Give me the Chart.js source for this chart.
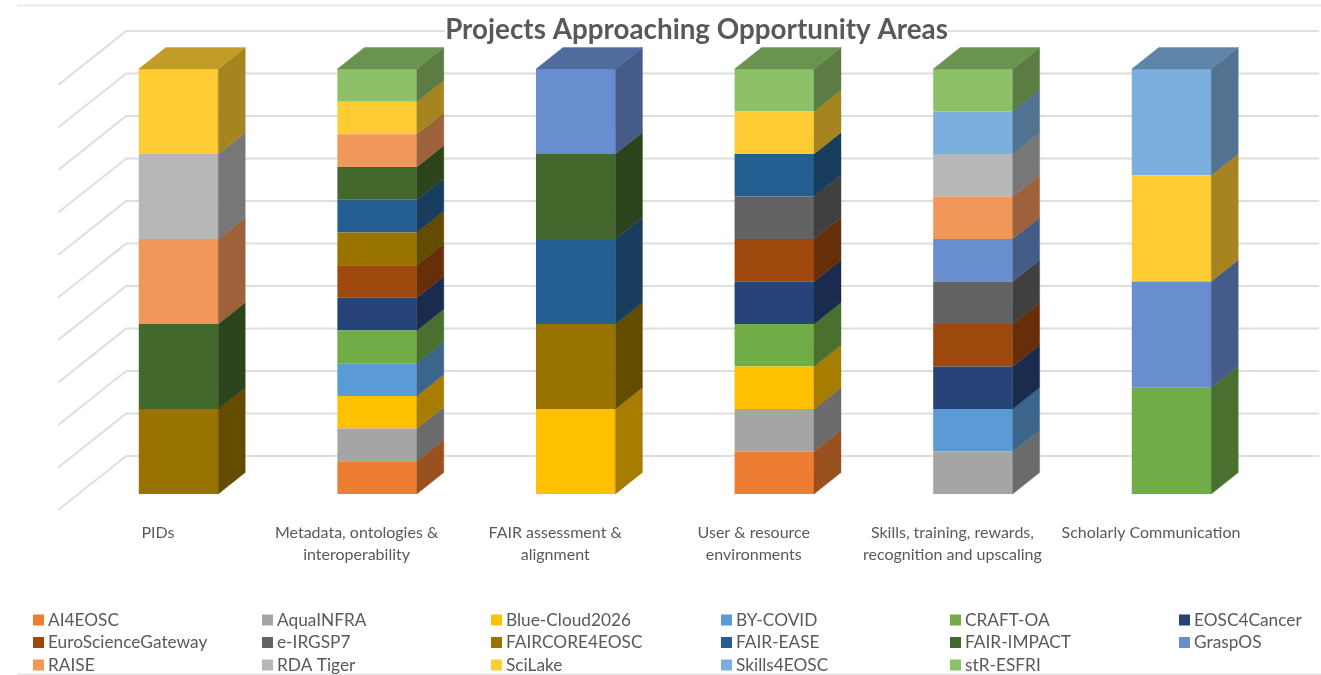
<!DOCTYPE html>
<html>
<head>
<meta charset="utf-8">
<style>html,body{margin:0;padding:0;background:#fff}canvas{display:block}</style>
<script src="https://cdn.jsdelivr.net/npm/chart.js@4"></script>
</head>
<body>
<canvas id="c" width="1321" height="675"></canvas>
<script>
const categories = [
  "PIDs",
  ["Metadata, ontologies &", "interoperability"],
  ["FAIR assessment &", "alignment"],
  ["User & resource", "environments"],
  ["Skills, training, rewards,", "recognition and upscaling"],
  "Scholarly Communication"
];
const AI4EOSC            = [0,1,0,1,0,0];
const AquaINFRA          = [0,1,0,1,1,0];
const BlueCloud2026      = [0,1,1,1,0,0];
const BYCOVID            = [0,1,0,0,1,0];
const CRAFTOA            = [0,1,0,1,0,1];
const EOSC4Cancer        = [0,1,0,1,1,0];
const EuroScienceGateway = [0,1,0,1,1,0];
const eIRGSP7            = [0,0,0,1,1,0];
const FAIRCORE4EOSC      = [1,1,1,0,0,0];
const FAIREASE           = [0,1,1,1,0,0];
const FAIRIMPACT         = [1,1,1,0,0,0];
const GraspOS            = [0,0,1,0,1,1];
const RAISE              = [1,1,0,0,1,0];
const RDATiger           = [1,0,0,0,1,0];
const SciLake            = [1,1,0,1,0,1];
const Skills4EOSC        = [0,0,0,0,1,1];
const stRESFRI           = [0,1,0,1,1,0];

const seriesNames = ["AI4EOSC","AquaINFRA","Blue-Cloud2026","BY-COVID","CRAFT-OA","EOSC4Cancer",
  "EuroScienceGateway","e-IRGSP7","FAIRCORE4EOSC","FAIR-EASE","FAIR-IMPACT","GraspOS",
  "RAISE","RDA Tiger","SciLake","Skills4EOSC","stR-ESFRI"];
const seriesValues = [AI4EOSC,AquaINFRA,BlueCloud2026,BYCOVID,CRAFTOA,EOSC4Cancer,
  EuroScienceGateway,eIRGSP7,FAIRCORE4EOSC,FAIREASE,FAIRIMPACT,GraspOS,
  RAISE,RDATiger,SciLake,Skills4EOSC,stRESFRI];
const seriesColors = ["#ED7D31","#A5A5A5","#FFC000","#5B9BD5","#70AD47","#264478",
  "#9E480E","#636363","#997300","#255E91","#43682B","#698ED0",
  "#F1975A","#B7B7B7","#FFCD33","#7CAFDD","#8CC168"];

const TEXT = "#595959", GRID = "#dedede", FONT = "Lato, 'Open Sans', sans-serif";
const TITLE_SIZE = 27.8;
const totals = categories.map((_, i) => seriesValues.reduce((s, v) => s + v[i], 0));

function shade(hex, f) {
  const n = parseInt(hex.slice(1), 16);
  const c = [n >> 16 & 255, n >> 8 & 255, n & 255].map(v => Math.round(v * f));
  return `rgb(${c[0]},${c[1]},${c[2]})`;
}
function poly(ctx, pts, color) {
  ctx.beginPath();
  pts.forEach((p, i) => i ? ctx.lineTo(p[0], p[1]) : ctx.moveTo(p[0], p[1]));
  ctx.closePath();
  ctx.fillStyle = color;
  ctx.fill();
  ctx.strokeStyle = color;
  ctx.lineWidth = 0.4;
  ctx.stroke();
}

const frame3d = {
  id: "frame3d",
  afterLayout(chart) {
    const t = chart.titleBlock;
    t.left = 72; t.right = chart.width;
  },
  beforeDraw(chart) {
    const { ctx, width, chartArea: a, scales: { y } } = chart;
    ctx.save();
    ctx.strokeStyle = "#e6e6e6";
    ctx.lineWidth = 1.5;
    ctx.beginPath();
    ctx.moveTo(17, 5.5); ctx.lineTo(width, 5.5);
    ctx.moveTo(17, 674.2); ctx.lineTo(width, 674.2);
    ctx.stroke();
    ctx.strokeStyle = GRID;
    ctx.lineWidth = 2;
    y.ticks.forEach(t => {
      const py = y.getPixelForValue(t.value);
      ctx.beginPath();
      ctx.moveTo(a.left - 21, py + 16);
      ctx.lineTo(a.left + 47, py - 38);
      ctx.lineTo(width - 2, py - 38);
      ctx.stroke();
    });
    // white plate behind the title, which hides the top gridline there
    const tb = chart.titleBlock;
    ctx.font = `bold ${TITLE_SIZE}px ${FONT}`;
    const tw = ctx.measureText(tb.options.text).width;
    ctx.fillStyle = "#fff";
    ctx.fillRect((tb.left + tb.right - tw) / 2, tb.top, tw, tb.height - tb.options.padding.bottom);
    ctx.restore();
  },
  afterDatasetsDraw(chart) {
    const { ctx } = chart;
    const dx = 27, dy = -21.5;
    ctx.save();
    chart.data.datasets.forEach((ds, di) => {
      chart.getDatasetMeta(di).data.forEach((bar, i) => {
        if (!ds.data[i]) return;
        const p = bar.getProps(["x", "y", "base", "width"], true);
        const l = p.x - p.width / 2, r = p.x + p.width / 2;
        poly(ctx, [[r, p.y], [r + dx, p.y + dy], [r + dx, p.base + dy], [r, p.base]], shade(ds.backgroundColor, 0.65));
        const last = chart.data.datasets.findLastIndex(d => d.data[i]) === di;
        if (last) poly(ctx, [[l, p.y], [l + dx, p.y + dy], [r + dx, p.y + dy], [r, p.y]], shade(ds.backgroundColor, 0.76));
      });
    });
    ctx.restore();
  },
  afterDraw(chart) {
    const { ctx } = chart;
    const cols = [33, 262, 491, 721, 950, 1179], rows = [619.5, 642, 664.5];
    ctx.save();
    ctx.textBaseline = "middle";
    ctx.textAlign = "left";
    ctx.font = "17.3px " + FONT;
    chart.data.datasets.forEach((ds, i) => {
      const x = cols[i % 6], yy = rows[Math.floor(i / 6)];
      ctx.fillStyle = ds.backgroundColor;
      ctx.fillRect(x, yy - 5, 11, 11);
      ctx.fillStyle = TEXT;
      ctx.fillText(ds.label, x + 15, yy + 0.5);
    });
    ctx.restore();
  }
};

new Chart(document.getElementById("c"), {
  type: "bar",
  data: {
    labels: categories,
    datasets: seriesNames.map((name, i) => ({
      label: name,
      data: seriesValues[i].map((v, k) => v / totals[k]),
      backgroundColor: seriesColors[i],
      borderWidth: 0,
      barPercentage: 1,
      categoryPercentage: 0.4
    }))
  },
  plugins: [frame3d],
  options: {
    responsive: false,
    animation: false,
    layout: { padding: { left: 79.2, right: 50.2, top: 13.3, bottom: 0 } },
    plugins: {
      legend: { display: false },
      tooltip: { enabled: false },
      title: {
        display: true,
        text: "Projects Approaching Opportunity Areas",
        color: TEXT,
        font: { family: FONT, size: TITLE_SIZE, weight: "bold", lineHeight: 1.2 },
        padding: { top: 0, bottom: 22.3 }
      }
    },
    scales: {
      x: {
        stacked: true,
        afterFit(s) { s.height = 181; },
        grid: { display: false, drawTicks: false },
        border: { display: false },
        ticks: {
          color: TEXT,
          font: { family: FONT, size: 16, lineHeight: 22 / 16 },
          padding: 28,
          labelOffset: -20.5,
          maxRotation: 0,
          minRotation: 0,
          autoSkip: false
        }
      },
      y: {
        stacked: true,
        display: false,
        min: 0,
        max: 1,
        ticks: { stepSize: 0.1 }
      }
    }
  }
});
</script>
</body>
</html>
